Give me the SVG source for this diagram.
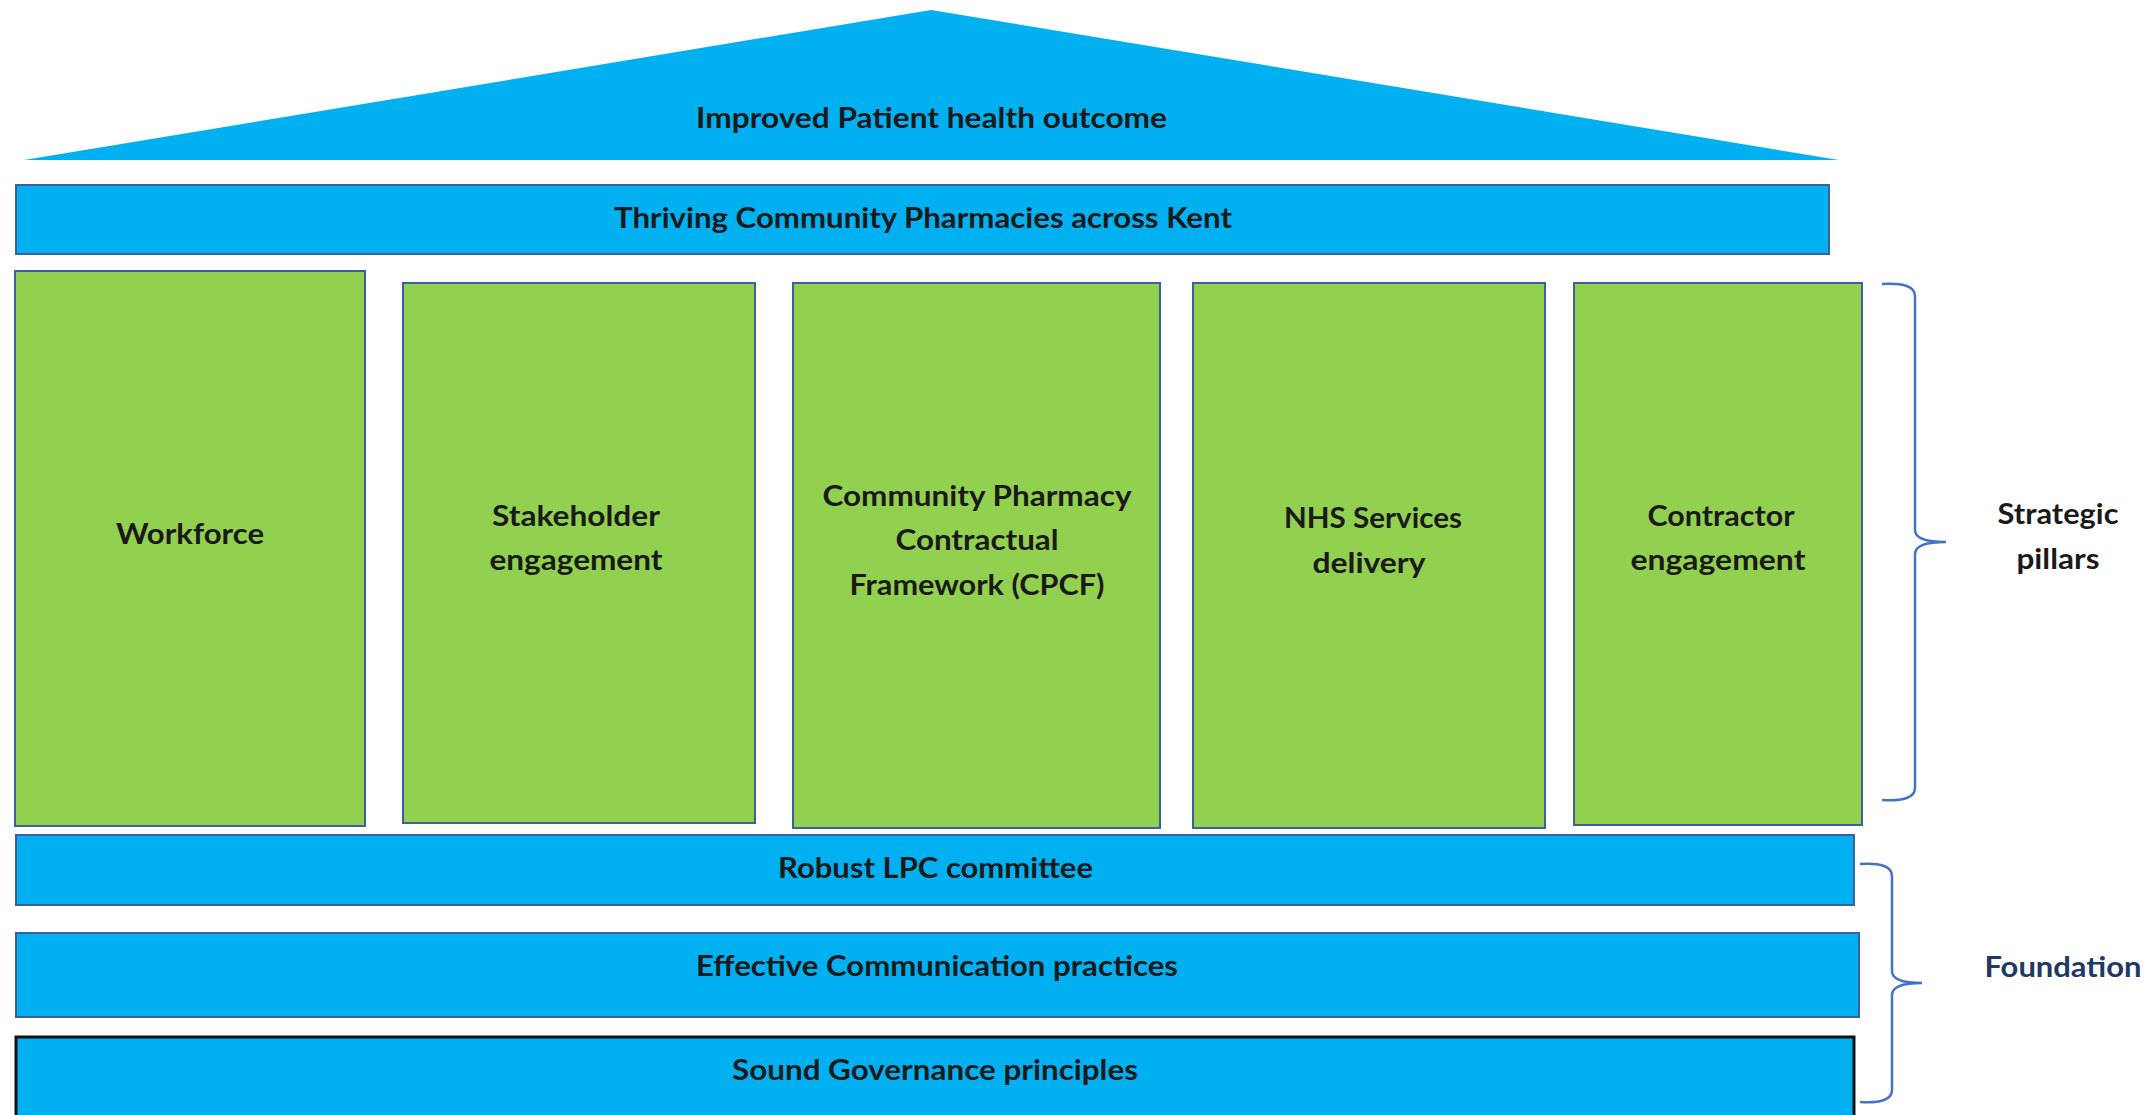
<svg xmlns="http://www.w3.org/2000/svg" width="2148" height="1115" viewBox="0 0 2148 1115">
<style>
.bar{fill:#00b0f0;stroke:#3d5f9e;stroke-width:2}
.pil{fill:#92d050;stroke:#3d5f9e;stroke-width:2}
.t{font-family:Lato,"Liberation Sans",sans-serif;font-weight:bold;font-size:28px;fill:#1a1a1a;text-anchor:middle}
.brace{fill:none;stroke:#4472c4;stroke-width:2.5}
</style>
<rect width="2148" height="1115" fill="#ffffff"/>
<g id="roof">
<polygon points="24,160 931,10 1839,160" fill="#00b0f0"/>
<text class="t" x="931.5" y="128" textLength="471" lengthAdjust="spacingAndGlyphs">Improved Patient health outcome</text>
</g>
<g id="thriving">
<rect class="bar" x="16" y="185" width="1813" height="69"/>
<text class="t" x="923" y="228" textLength="618" lengthAdjust="spacingAndGlyphs">Thriving Community Pharmacies across Kent</text>
</g>
<g id="workforce">
<rect class="pil" x="15" y="271" width="350" height="555"/>
<text class="t" x="190" y="544" textLength="148" lengthAdjust="spacingAndGlyphs">Workforce</text>
</g>
<g id="stakeholder">
<rect class="pil" x="403" y="283" width="352" height="540"/>
<text class="t" x="576" y="526" textLength="168" lengthAdjust="spacingAndGlyphs">Stakeholder</text>
<text class="t" x="576" y="570" textLength="173" lengthAdjust="spacingAndGlyphs">engagement</text>
</g>
<g id="cpcf">
<rect class="pil" x="793" y="283" width="367" height="545"/>
<text class="t" x="977" y="506" textLength="309" lengthAdjust="spacingAndGlyphs">Community Pharmacy</text>
<text class="t" x="977" y="550" textLength="163" lengthAdjust="spacingAndGlyphs">Contractual</text>
<text class="t" x="977" y="595" textLength="255" lengthAdjust="spacingAndGlyphs">Framework (CPCF)</text>
</g>
<g id="nhs">
<rect class="pil" x="1193" y="283" width="352" height="545"/>
<text class="t" x="1373" y="528" textLength="178" lengthAdjust="spacingAndGlyphs">NHS Services</text>
<text class="t" x="1369" y="573" textLength="113" lengthAdjust="spacingAndGlyphs">delivery</text>
</g>
<g id="contractor">
<rect class="pil" x="1574" y="283" width="288" height="542"/>
<text class="t" x="1721" y="526" textLength="147" lengthAdjust="spacingAndGlyphs">Contractor</text>
<text class="t" x="1718" y="570" textLength="175" lengthAdjust="spacingAndGlyphs">engagement</text>
</g>
<g id="robust">
<rect class="bar" x="16" y="835" width="1838" height="70"/>
<text class="t" x="935.5" y="878" textLength="315" lengthAdjust="spacingAndGlyphs">Robust LPC committee</text>
</g>
<g id="communication">
<rect class="bar" x="16" y="933" width="1843" height="84"/>
<text class="t" x="937" y="976" textLength="482" lengthAdjust="spacingAndGlyphs">Effective Communication practices</text>
</g>
<g id="governance">
<rect x="16" y="1037" width="1838" height="90" fill="#00b0f0" stroke="#111111" stroke-width="3"/>
<text class="t" x="935" y="1080" textLength="406" lengthAdjust="spacingAndGlyphs">Sound Governance principles</text>
</g>
<g id="strategic-label">
<text class="t" x="2058" y="524" textLength="121" lengthAdjust="spacingAndGlyphs" fill="#111">Strategic</text>
<text class="t" x="2058" y="569" textLength="83" lengthAdjust="spacingAndGlyphs">pillars</text>
</g>
<g id="foundation-label">
<text class="t" x="2063" y="977" textLength="157" lengthAdjust="spacingAndGlyphs" style="fill:#1f3864">Foundation</text>
</g>
<g id="connectors">
<path class="brace" d="M1882,284 Q1915,282 1915,296 L1915,530 Q1915,542 1946,542 Q1915,542 1915,554 L1915,788 Q1915,802 1882,800"/>
<path class="brace" d="M1860,864 Q1892,862 1892,876 L1892,971 Q1892,983 1922,983 Q1892,983 1892,995 L1892,1090 Q1892,1104 1860,1102"/>
</g>
</svg>
